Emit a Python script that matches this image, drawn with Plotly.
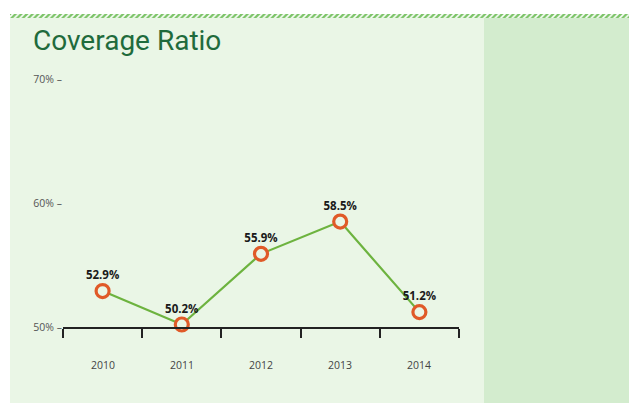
import plotly.graph_objects as go

# Coverage ratio by year
years = ["2010", "2011", "2012", "2013", "2014"]
ratios = [52.9, 50.2, 55.9, 58.5, 51.2]
y_ticks = [50, 60, 70]
y_tick_labels = ["50% –", "60% –", "70% –"]

W, H = 629, 403


def px_x(p):
    return p / W


def px_y(p):
    return 1 - p / H


PANEL = "#eaf6e6"
SIDE = "#d3ecce"
LINE = "#6db33f"
MARK = "#e05a28"
TITLE = "#1f6b3c"

xs = list(range(len(years)))

fig = go.Figure()

fig.add_trace(go.Scatter(
    x=xs, y=ratios,
    mode="lines+markers+text",
    line=dict(color=LINE, width=2.2),
    marker=dict(size=13, color=PANEL, line=dict(color=MARK, width=3.2)),
    text=[f"{v:.1f}%" for v in ratios],
    textposition="top center",
    textfont=dict(family="Open Sans", size=11.5, color="#1a1a1a", weight="bold"),
    cliponaxis=False,
    hoverinfo="skip",
    showlegend=False,
))

# hatched stripe along the top edge
fig.add_trace(go.Bar(
    x=[0], y=[1], width=[1],
    xaxis="x2", yaxis="y2",
    marker=dict(
        color="white",
        line=dict(width=0),
        pattern=dict(shape="/", fgcolor="#7cc468", bgcolor="white", size=4, solidity=0.6),
    ),
    hoverinfo="skip",
    showlegend=False,
))

fig.update_layout(
    template="none",
    width=W, height=H,
    margin=dict(l=0, r=0, t=0, b=0, pad=0, autoexpand=False),
    paper_bgcolor="white",
    plot_bgcolor="rgba(0,0,0,0)",
    font=dict(family="Open Sans", color="#555"),
    bargap=0,
    xaxis=dict(
        domain=[px_x(63), px_x(459)],
        range=[-0.5, len(years) - 0.5],
        showgrid=False, zeroline=False, automargin=False,
        showline=True, linecolor="#222", linewidth=2,
        tickvals=[i - 0.5 for i in range(len(years) + 1)],
        ticktext=[""] * (len(years) + 1),
        ticks="outside", ticklen=9, tickwidth=2, tickcolor="#222",
        fixedrange=True,
    ),
    yaxis=dict(
        domain=[px_y(327), px_y(79)],
        range=[50, 70],
        showgrid=False, zeroline=False, showline=False, automargin=False,
        tickvals=y_ticks, ticktext=y_tick_labels,
        tickfont=dict(size=10.5, color="#555"),
        ticks="", ticklabelstandoff=0,
        fixedrange=True,
    ),
    xaxis2=dict(domain=[px_x(10), 1], range=[-0.5, 0.5], visible=False,
                anchor="y2", automargin=False),
    yaxis2=dict(domain=[px_y(18), px_y(14)], range=[0, 1], visible=False,
                anchor="x2", automargin=False),
    shapes=[
        dict(type="rect", xref="paper", yref="paper",
             x0=px_x(10), x1=px_x(484), y0=0, y1=px_y(18),
             fillcolor=PANEL, line=dict(width=0), layer="below"),
        dict(type="rect", xref="paper", yref="paper",
             x0=px_x(484), x1=1, y0=0, y1=px_y(18),
             fillcolor=SIDE, line=dict(width=0), layer="below"),
    ],
    annotations=[
        dict(text="Coverage Ratio", xref="paper", yref="paper",
             x=px_x(31), y=px_y(40), xanchor="left", yanchor="middle",
             showarrow=False, font=dict(family="Roboto", size=28, color=TITLE)),
    ] + [
        dict(text=yr, xref="x", yref="paper", x=i, y=px_y(365),
             xanchor="center", yanchor="middle", showarrow=False,
             font=dict(family="Open Sans", size=10.5, color="#444"))
        for i, yr in enumerate(years)
    ],
)

fig.write_html("out.html")
